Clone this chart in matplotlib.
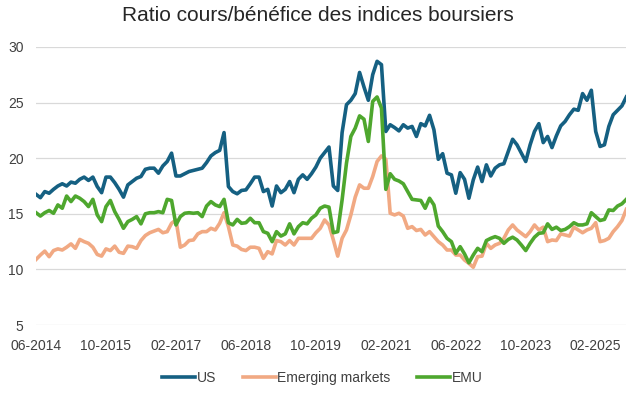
import matplotlib
matplotlib.use("Agg")
from matplotlib import pyplot as plt

# monthly P/E ratios, 06-2014 .. 09-2025
us = [16.75, 16.45, 17.0, 16.85, 17.2, 17.5, 17.7, 17.5, 17.85, 17.75,
      18.1, 18.3, 18.0, 18.3, 17.45, 16.9, 18.3, 18.3, 17.8, 17.2,
      16.5, 17.6, 17.9, 18.2, 18.35, 19.0, 19.1, 19.1, 18.65, 19.3,
      19.7, 20.45, 18.4, 18.4, 18.6, 18.8, 18.9, 19.0, 19.1, 19.6,
      20.2, 20.5, 20.7, 22.3, 17.45, 17.0, 16.8, 17.1, 17.15, 17.7,
      18.3, 18.3, 17.0, 17.2, 15.7, 17.5, 16.9, 17.2, 17.9, 16.9,
      18.1, 18.5, 18.1, 18.6, 19.2, 20.0, 20.5, 21.0, 17.5, 17.1,
      22.3, 24.8, 25.2, 25.8, 27.7, 26.4, 25.2, 27.5, 28.7, 28.4,
      22.4, 23.0, 22.75, 22.45, 23.0, 22.7, 22.85, 21.95, 23.1, 22.9,
      23.85, 22.55, 19.9, 20.4, 18.65, 18.5, 16.85, 18.7, 18.1, 16.4,
      18.05, 19.2, 17.9, 19.4, 18.4, 19.1, 19.4, 19.5, 20.6, 21.7,
      21.2, 20.45, 19.7, 21.2, 22.4, 23.1, 21.4, 21.95, 20.95, 22.0,
      22.9, 23.3, 23.9, 24.4, 24.3, 25.8, 25.2, 26.1, 22.4, 21.05,
      21.2, 22.85, 23.9, 24.3, 24.7, 25.5]

emerging = [10.9, 11.3, 11.65, 11.15, 11.7, 11.85, 11.75, 12.0, 12.3, 11.9,
            12.7, 12.5, 12.35, 12.0, 11.35, 11.2, 11.85, 11.7, 12.1, 11.55,
            11.45, 12.1, 12.05, 11.9, 12.6, 13.05, 13.3, 13.45, 13.6, 13.3,
            13.4, 14.15, 14.45, 12.0, 12.2, 12.6, 12.65, 13.2, 13.4, 13.4,
            13.7, 13.55, 14.15, 15.1, 13.85, 12.2, 12.1, 11.8, 11.7, 12.0,
            12.0, 11.9, 11.0, 11.6, 11.4, 12.6, 12.5, 12.2, 12.6, 12.2,
            12.8, 12.8, 12.8, 12.8, 13.3, 13.7, 14.45, 14.0, 12.65, 11.2,
            12.8, 13.55, 14.9, 16.5, 17.6, 17.3, 17.3, 18.35, 19.7, 20.2,
            19.9, 15.05, 14.9, 15.05, 14.8, 13.7, 13.85, 13.5, 13.6, 13.1,
            13.4, 12.95, 12.5, 12.2, 11.75, 11.75, 11.3, 11.3, 10.85, 10.55,
            10.2, 11.15, 11.2, 12.35, 11.9, 12.2, 12.35, 12.8, 13.55, 14.0,
            13.55, 13.25, 12.95, 13.4, 14.0, 13.55, 13.8, 12.5, 12.65, 12.6,
            13.2, 13.1, 13.0, 13.8, 13.55, 13.3, 13.55, 13.7, 14.2, 12.5,
            12.6, 12.8, 13.4, 13.85, 14.4, 15.4]

emu = [15.1, 14.8, 15.1, 15.3, 15.05, 15.8, 15.5, 16.6, 16.1, 16.6,
       16.4, 16.1, 15.65, 16.3, 14.9, 14.3, 15.65, 16.2, 15.2, 14.5,
       13.7, 14.3, 14.5, 14.75, 14.1, 15.0, 15.1, 15.1, 15.2, 15.1,
       16.3, 16.2, 14.0, 14.75, 15.05, 15.1, 15.05, 15.1, 14.75, 15.7,
       16.1, 15.8, 15.65, 16.3, 14.2, 14.0, 14.5, 14.15, 14.2, 14.6,
       14.2, 14.2, 13.4, 13.25, 12.5, 13.4, 13.0, 13.2, 14.1, 13.2,
       13.85, 14.2, 14.1, 14.6, 14.9, 15.5, 15.7, 15.6, 13.3, 13.4,
       16.25, 19.55, 21.95, 22.7, 23.8, 23.5, 21.5, 25.1, 25.5, 24.5,
       17.2, 18.6, 18.1, 17.95, 17.7, 17.0, 16.3, 16.25, 16.2, 15.5,
       16.4, 15.8, 13.9, 13.4, 12.8, 12.5, 11.45, 12.05, 11.4, 10.6,
       11.3, 11.9, 11.6, 12.6, 12.8, 12.95, 12.8, 12.35, 12.7, 12.9,
       12.65, 12.2, 11.7, 12.35, 12.9, 13.25, 13.3, 14.1, 13.6, 13.8,
       13.5, 13.6, 13.85, 14.2, 14.0, 14.0, 14.1, 15.1, 14.75, 14.4,
       14.5, 15.35, 15.3, 15.7, 15.9, 16.3]

tick_labels = ["06-2014", "10-2015", "02-2017", "06-2018", "10-2019",
               "02-2021", "06-2022", "10-2023", "02-2025"]
yticks = [5, 10, 15, 20, 25, 30]

plt.rcParams['font.family'] = ['Liberation Sans Narrow', 'Liberation Sans', 'DejaVu Sans']

fig = plt.figure(figsize=(6.32, 3.97), dpi=100)
ax = fig.add_axes([0.057, 0.181, 0.934, 0.701])

x = list(range(len(us)))
ax.plot(x, us, color='#156082', lw=2.6, label='US', solid_joinstyle='round')
ax.plot(x, emerging, color='#F1A983', lw=2.6, label='Emerging markets', solid_joinstyle='round')
ax.plot(x, emu, color='#4EA72E', lw=2.6, label='EMU', solid_joinstyle='round')

ax.set_ylim(5, 30)
ax.set_xlim(0, len(us) - 1)
ax.set_yticks(yticks)
ax.set_xticks(range(0, len(us), 16))
ax.set_xticklabels(tick_labels)
ax.grid(axis='y', color='#d9d9d9', lw=0.9)
ax.set_axisbelow(True)
for s in ax.spines.values():
    s.set_visible(False)
ax.tick_params(length=0, labelsize=10, colors='#404040')
ax.tick_params(axis='x', pad=10)
ax.tick_params(axis='y', pad=9)

fig.suptitle("Ratio cours/bénéfice des indices boursiers", x=0.503, y=0.985,
             fontsize=15, color='#262626', family=['Liberation Sans', 'DejaVu Sans'])
fig.legend(loc='center', bbox_to_anchor=(0.51, 0.048), ncol=3, frameon=False,
           fontsize=10, handlelength=2.4, columnspacing=1.9, handletextpad=0.1,
           labelcolor='#404040')

fig.savefig("out.png", dpi=100)
